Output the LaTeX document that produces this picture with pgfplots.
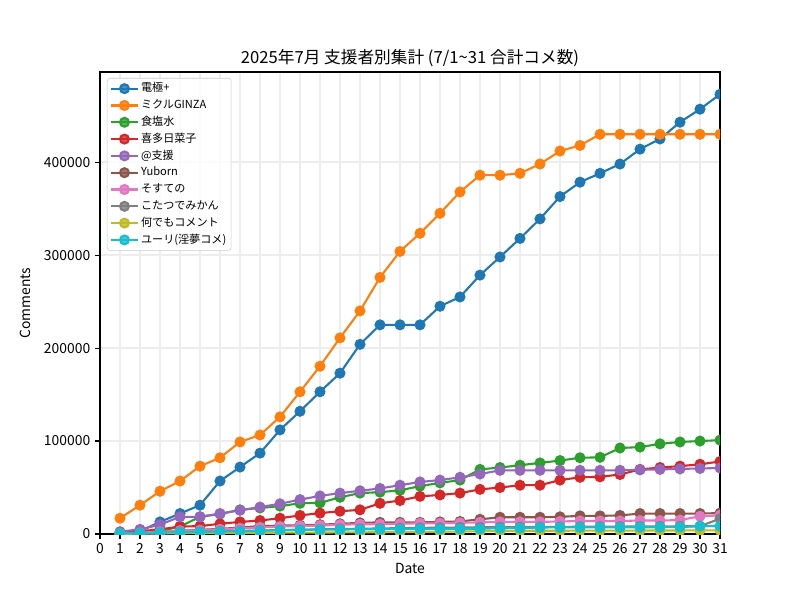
\documentclass[border=0pt]{standalone}
\usepackage{fontspec}
\setmainfont{Noto Sans CJK JP}
\usepackage{pgfplots}
\pgfplotsset{compat=1.18}
\definecolor{c0}{HTML}{1F77B4}
\definecolor{c1}{HTML}{FF7F0E}
\definecolor{c2}{HTML}{2CA02C}
\definecolor{c3}{HTML}{D62728}
\definecolor{c4}{HTML}{9467BD}
\definecolor{c5}{HTML}{8C564B}
\definecolor{c6}{HTML}{E377C2}
\definecolor{c7}{HTML}{7F7F7F}
\definecolor{c8}{HTML}{BCBD22}
\definecolor{c9}{HTML}{17BECF}
\begin{document}
\begin{tikzpicture}
\path[use as bounding box] (-72pt,-47.52pt) rectangle (504pt,384.48pt);
\begin{axis}[
 at={(0,0)}, anchor=south west,
 width=446.4pt, height=332.64pt, scale only axis,
 xmin=0, xmax=31, ymin=0, ymax=497000,
 xtick={0,1,...,31}, ytick={0,100000,200000,300000,400000},
 scaled y ticks=false,
 yticklabel style={/pgf/number format/fixed,/pgf/number format/1000 sep={}},
 /pgf/number format/assume math mode=true,
 tick label style={font=\fontsize{10}{12}\selectfont},
 tick align=outside, major tick length=3.5pt,
 xtick pos=left, ytick pos=left,
 grid=major, major grid style={black!7, line width=1pt},
 axis line style={line width=0.8pt},
 tick style={black, line width=0.8pt},
 title={2025年7月 支援者別集計 (7/1\textasciitilde31 合計コメ数)},
 title style={font=\fontsize{12}{14}\selectfont, at={(0.5,1)}, anchor=south, yshift=-6pt},
 xlabel={Date}, ylabel={Comments},
 label style={font=\fontsize{10}{12}\selectfont},
 ylabel style={xshift=0pt, yshift=3pt},
 legend cell align=left,
 legend style={at={(0,1)}, anchor=north west, xshift=5pt, yshift=-4.3pt,
   font=\fontsize{8}{9.6}\selectfont, draw=black!20, rounded corners=2pt,
   fill=white, fill opacity=0.8, text opacity=1,
   row sep=1.1pt, inner sep=2pt,
   nodes={inner sep=1.5pt, text height=6.3pt, text depth=1.7pt}},
 legend image code/.code={\draw[#1, mark repeat=2, mark phase=2] plot coordinates {(0cm,0cm) (0.34cm,0cm) (0.68cm,0cm)};},
 every axis plot/.append style={line width=1.5pt, mark=*, mark size=3.2pt},
 clip marker paths=true,
]
\addplot[c0, mark options={fill=c0, draw=c0}] coordinates {
(1,1000)(2,3000)(3,13000)(4,22000)(5,31000)(6,57000)(7,72000)(8,87000)(9,112000)(10,132000)
(11,153000)(12,173000)(13,204000)(14,225000)(15,225000)(16,225000)(17,245000)(18,255000)(19,278500)(20,298000)
(21,318000)(22,339000)(23,363000)(24,378500)(25,388000)(26,398000)(27,414000)(28,425000)(29,443000)(30,457000)(31,473000)};
\addlegendentry{電極+}
\addplot[c1, mark options={fill=c1, draw=c1}] coordinates {
(1,17000)(2,31000)(3,46000)(4,57000)(5,73000)(6,82000)(7,99000)(8,106500)(9,126000)(10,153000)
(11,180500)(12,211000)(13,240000)(14,276000)(15,304000)(16,323500)(17,345000)(18,368000)(19,386000)(20,386000)
(21,388000)(22,398000)(23,412000)(24,418000)(25,430000)(26,430000)(27,430000)(28,430000)(29,430000)(30,430000)(31,430000)};
\addlegendentry{ミクルGINZA}
\addplot[c2, mark options={fill=c2, draw=c2}] coordinates {
(1,500)(2,1500)(3,3000)(4,8000)(5,18500)(6,21500)(7,26000)(8,28000)(9,30000)(10,33000)
(11,33500)(12,39500)(13,44000)(14,45000)(15,47000)(16,51500)(17,55000)(18,58000)(19,69500)(20,71500)
(21,74000)(22,76500)(23,79000)(24,82000)(25,82500)(26,92500)(27,93500)(28,97000)(29,99000)(30,100000)(31,101000)};
\addlegendentry{食塩水}
\addplot[c3, mark options={fill=c3, draw=c3}] coordinates {
(1,1000)(2,3000)(3,5000)(4,8000)(5,8500)(6,11000)(7,13000)(8,14500)(9,17000)(10,20000)
(11,22500)(12,24500)(13,26000)(14,33000)(15,36000)(16,40500)(17,42000)(18,44000)(19,48000)(20,50000)
(21,52500)(22,52500)(23,58000)(24,61000)(25,61500)(26,64000)(27,69500)(28,71500)(29,73000)(30,75000)(31,78000)};
\addlegendentry{喜多日菜子}
\addplot[c4, mark options={fill=c4, draw=c4}] coordinates {
(1,2500)(2,5000)(3,10000)(4,18500)(5,18500)(6,22000)(7,25500)(8,29000)(9,32500)(10,37000)
(11,41000)(12,44000)(13,46500)(14,49000)(15,52500)(16,56000)(17,58000)(18,61000)(19,64500)(20,68500)
(21,68500)(22,68500)(23,68500)(24,68500)(25,68500)(26,68500)(27,69000)(28,69500)(29,70000)(30,70500)(31,71000)};
\addlegendentry{@支援}
\addplot[c5, mark options={fill=c5, draw=c5}] coordinates {
(1,500)(2,1500)(3,2500)(4,3500)(5,4500)(6,5500)(7,7000)(8,8500)(9,9000)(10,9500)
(11,10000)(12,11000)(13,12000)(14,12500)(15,12500)(16,12500)(17,13000)(18,13500)(19,15800)(20,18000)
(21,18000)(22,18000)(23,18500)(24,19500)(25,19500)(26,20000)(27,22000)(28,22000)(29,22000)(30,22000)(31,22500)};
\addlegendentry{Yuborn}
\addplot[c6, mark options={fill=c6, draw=c6}] coordinates {
(1,500)(2,1500)(3,2500)(4,3500)(5,4000)(6,5000)(7,6000)(8,7000)(9,8000)(10,8500)
(11,9000)(12,10000)(13,10500)(14,10500)(15,11000)(16,11500)(17,11500)(18,12000)(19,12500)(20,13000)
(21,13000)(22,13000)(23,13500)(24,14000)(25,14000)(26,14000)(27,14500)(28,14500)(29,15000)(30,19000)(31,20000)};
\addlegendentry{そすての}
\addplot[c7, mark options={fill=c7, draw=c7}] coordinates {
(1,300)(2,800)(3,1300)(4,1800)(5,2300)(6,2800)(7,3300)(8,3800)(9,4200)(10,4600)
(11,5000)(12,5400)(13,5700)(14,6000)(15,6300)(16,6600)(17,6800)(18,7000)(19,7200)(20,7400)
(21,7500)(22,7600)(23,7700)(24,7800)(25,7900)(26,8000)(27,8100)(28,8200)(29,8300)(30,8400)(31,16500)};
\addlegendentry{こたつでみかん}
\addplot[c8, mark options={fill=c8, draw=c8}] coordinates {
(1,200)(2,400)(3,600)(4,800)(5,1000)(6,1100)(7,1200)(8,1300)(9,1400)(10,1500)
(11,1600)(12,1700)(13,1800)(14,1900)(15,2000)(16,2100)(17,2400)(18,2700)(19,3000)(20,3200)
(21,3400)(22,3500)(23,3500)(24,3600)(25,3600)(26,3700)(27,3700)(28,3800)(29,3800)(30,3900)(31,4000)};
\addlegendentry{何でもコメント}
\addplot[c9, mark options={fill=c9, draw=c9}] coordinates {
(1,500)(2,1000)(3,1500)(4,2000)(5,2300)(6,2600)(7,3000)(8,3500)(9,4000)(10,4500)
(11,4700)(12,4800)(13,5000)(14,5200)(15,5300)(16,5500)(17,5500)(18,5600)(19,5700)(20,6200)
(21,6300)(22,7000)(23,7100)(24,7200)(25,7200)(26,7200)(27,7300)(28,7300)(29,7400)(30,8500)(31,8600)};
\addlegendentry{ユーリ(淫夢コメ)}
\end{axis}
\end{tikzpicture}
\end{document}
